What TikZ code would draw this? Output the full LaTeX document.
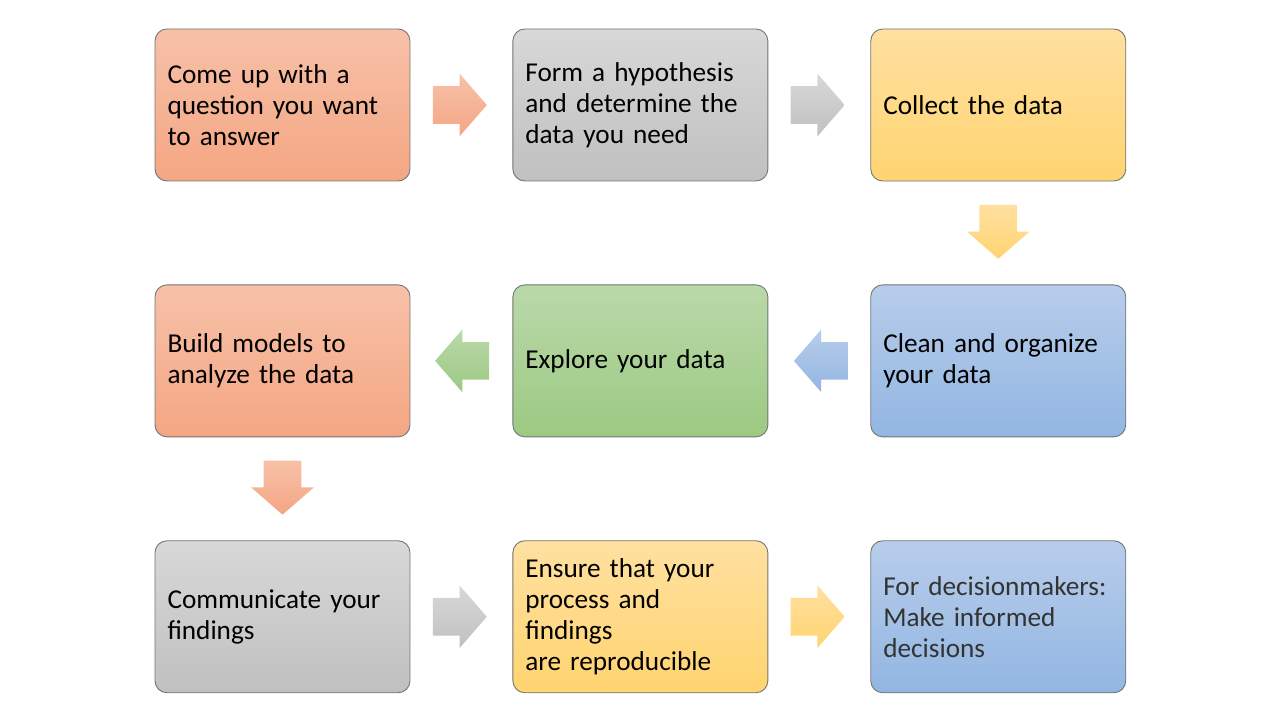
\documentclass[tikz,border=0pt]{standalone}
\usepackage{fontspec}
\setmainfont{Carlito}
\usetikzlibrary{shapes.arrows,positioning}

\definecolor{salmonT}{RGB}{247,193,168}
\definecolor{salmonB}{RGB}{244,166,131}
\definecolor{grayT}{RGB}{216,216,216}
\definecolor{grayB}{RGB}{192,192,192}
\definecolor{yellowT}{RGB}{255,224,160}
\definecolor{yellowB}{RGB}{255,212,112}
\definecolor{greenT}{RGB}{186,217,170}
\definecolor{greenB}{RGB}{156,201,130}
\definecolor{blueT}{RGB}{184,205,235}
\definecolor{blueB}{RGB}{146,182,226}

\begin{document}
\begin{tikzpicture}[
    stepbox/.style={rectangle,rounded corners=0.24cm,draw=black!55,line width=0.5pt,
      minimum width=5.1cm,minimum height=3.04cm,text width=4.6cm,inner xsep=0.25cm,
      align=left,font=\fontsize{15.5}{17.6}\selectfont},
    blockarrow/.style={single arrow,minimum height=1.08cm,minimum width=1.24cm,anchor=tail,
      single arrow head extend=0.25cm,single arrow tip angle=98,inner xsep=0pt,inner ysep=0.37cm},
    downarrow/.style={blockarrow,shape border rotate=270,inner xsep=0.37cm,inner ysep=0pt},
    salmon/.style={top color=salmonT,bottom color=salmonB},
    grey/.style={top color=grayT,bottom color=grayB},
    yellow/.style={top color=yellowT,bottom color=yellowB},
    green/.style={top color=greenT,bottom color=greenB},
    blue/.style={top color=blueT,bottom color=blueB}]
  \useasboundingbox (0,0) rectangle (25.6,14.4);
  \node[stepbox,salmon] (question) at (5.65,12.3) {Come up with a\\question you want\\to answer};
  \node[stepbox,grey,right=2.04cm of question] (hypothesis) {Form a hypothesis\\and determine the\\data you need};
  \node[stepbox,yellow,right=2.04cm of hypothesis] (collect) {Collect the data};
  \node[stepbox,blue,below=2.06cm of collect] (clean) {Clean and organize\\your data};
  \node[stepbox,green,left=2.04cm of clean] (explore) {Explore your data};
  \node[stepbox,salmon,left=2.04cm of explore] (models) {Build models to\\analyze the data};
  \node[stepbox,grey,below=2.06cm of models] (communicate) {Communicate your\\findings};
  \node[stepbox,yellow,right=2.04cm of communicate] (ensure) {Ensure that your\\process and\\findings\\are reproducible};
  \node[stepbox,blue,right=2.04cm of ensure,text=black!80] (decide) {For decisionmakers:\\Make informed\\decisions};
  \node[blockarrow,salmon] (a1) at ([xshift=0.44cm]question.east) {};
  \node[blockarrow,grey] (a2) at ([xshift=0.44cm]hypothesis.east) {};
  \node[downarrow,yellow] (a3) at ([yshift=-0.46cm]collect.south) {};
  \node[blockarrow,blue,shape border rotate=180] (a4) at ([xshift=-0.44cm]clean.west) {};
  \node[blockarrow,green,shape border rotate=180] (a5) at ([xshift=-0.46cm]explore.west) {};
  \node[downarrow,salmon] (a6) at ([yshift=-0.46cm]models.south) {};
  \node[blockarrow,grey] (a7) at ([xshift=0.44cm]communicate.east) {};
  \node[blockarrow,yellow] (a8) at ([xshift=0.44cm]ensure.east) {};
\end{tikzpicture}
\end{document}
